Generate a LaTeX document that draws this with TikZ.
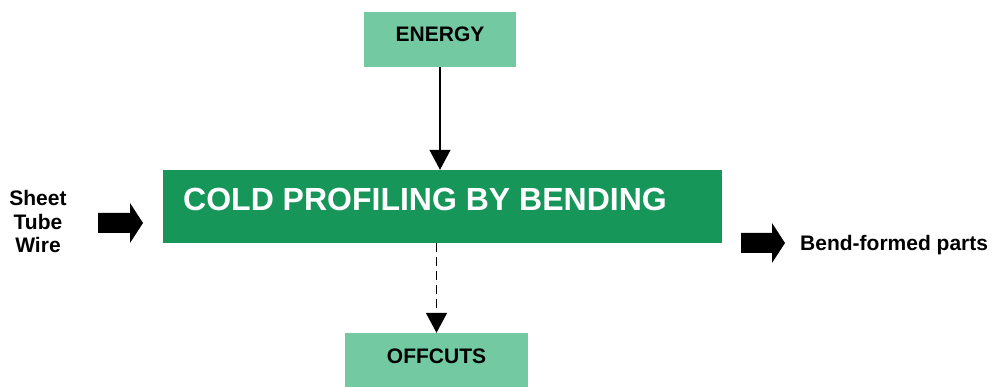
\documentclass[tikz,border=0pt]{standalone}
\usepackage{fontspec}
\setmainfont{Liberation Sans}
\usetikzlibrary{arrows.meta}
\definecolor{lightgreen}{HTML}{72C9A2}
\definecolor{darkgreen}{HTML}{17965A}
\tikzset{
  inbox/.style={fill=lightgreen, draw=none, inner sep=0pt},
  lbl/.style={font=\bfseries\fontsize{21}{23.5}\selectfont, inner sep=0pt, text height=15pt, text depth=0pt},
  flow/.style={-{Triangle[length=20pt,width=21pt]}, line width=1.4pt},
}
\begin{document}
\begin{tikzpicture}[x=1pt,y=-1pt]
    \useasboundingbox (0,0) rectangle (993,387);

    % Draw the boxes
    \node[inbox, minimum width=152pt, minimum height=55pt] (energy) at (440,39.5) {};
    \node[fill=darkgreen, inner sep=0pt, minimum width=559pt, minimum height=73pt] (main) at (442.5,206.5) {};
    \node[inbox, minimum width=183pt, minimum height=54pt] (offcuts) at (436.5,360) {};

    % Label the boxes
    \node[lbl] (energytxt) at (440,34) {ENERGY};
    \node[lbl, anchor=west, text=white, font=\bfseries\fontsize{32}{38}\selectfont, text height=22.9pt] (maintxt) at (183,199) {COLD PROFILING BY BENDING};
    \node[lbl] (offcutstxt) at (436.5,355.5) {OFFCUTS};

    % Input and output
    \node[lbl, align=center, text height=, text depth=] (input) at (38,221.5) {Sheet\\Tube\\Wire};
    \node[lbl, anchor=west] (output) at (800,243) {Bend-formed parts};

    % Draw the block arrows
    \fill (98,213) -- (130,213) -- (130,203) -- (143,223) -- (130,243) -- (130,233) -- (98,233) -- cycle; % in
    \fill (741,233) -- (772,233) -- (772,223) -- (785,243) -- (772,263) -- (772,253) -- (741,253) -- cycle; % out

    % Draw the connectors
    \draw[flow] (energy.south) -- (energy.south |- main.north);
    \draw[flow, line width=1.7pt, dash pattern=on 9pt off 5pt] (main.south -| offcuts.north) -- (offcuts.north);
\end{tikzpicture}
\end{document}
